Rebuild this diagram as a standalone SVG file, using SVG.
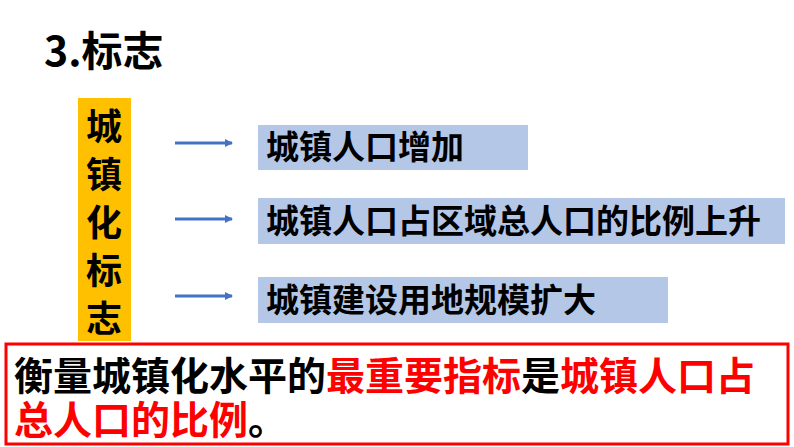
<svg xmlns="http://www.w3.org/2000/svg" width="794" height="447" viewBox="0 0 794 447">
<style>
text{font-family:"Noto Sans CJK SC","Liberation Sans",sans-serif;font-weight:bold;fill:#000}
.b{fill:#b4c7e7}
.a{stroke:#4472c4;stroke-width:3;fill:none}
.r{fill:#ff0000}
</style>
<defs><marker id="m" markerWidth="8" markerHeight="8" refX="7" refY="4" orient="auto" markerUnits="userSpaceOnUse"><path d="M0,0L8,4L0,8z" fill="#4472c4"/></marker></defs>
<rect width="794" height="447" fill="#fff"/>
<text x="44" y="66" font-size="41">3.标志</text>
<g id="side"><rect x="78" y="98" width="53" height="243" fill="#ffc000"/>
<text x="104" y="140" font-size="36" text-anchor="middle">城</text>
<text x="104" y="188" font-size="36" text-anchor="middle">镇</text>
<text x="104" y="236" font-size="36" text-anchor="middle">化</text>
<text x="104" y="284" font-size="36" text-anchor="middle">标</text>
<text x="104" y="332" font-size="36" text-anchor="middle">志</text></g>
<g id="connectors">
<line class="a" x1="175" y1="143" x2="232" y2="143" marker-end="url(#m)"/>
<line class="a" x1="175" y1="219" x2="232" y2="219" marker-end="url(#m)"/>
<line class="a" x1="175" y1="296" x2="232" y2="296" marker-end="url(#m)"/>
</g>
<g id="n1"><rect class="b" x="258" y="125" width="270" height="45"/><text x="266" y="159" font-size="33">城镇人口增加</text></g>
<g id="n2"><rect class="b" x="258" y="198" width="527" height="46"/><text x="266" y="233" font-size="33">城镇人口占区域总人口的比例上升</text></g>
<g id="n3"><rect class="b" x="258" y="277" width="410" height="46"/><text x="266" y="312" font-size="33">城镇建设用地规模扩大</text></g>
<g id="note"><rect x="6" y="344" width="782" height="100" fill="#fff" stroke="#ff0000" stroke-width="3"/>
<text x="14" y="390" font-size="39">衡量城镇化水平的<tspan class="r">最重要指标</tspan>是<tspan class="r">城镇人口占</tspan></text>
<text x="14" y="434" font-size="39"><tspan class="r">总人口的比例</tspan>。</text></g>
</svg>
